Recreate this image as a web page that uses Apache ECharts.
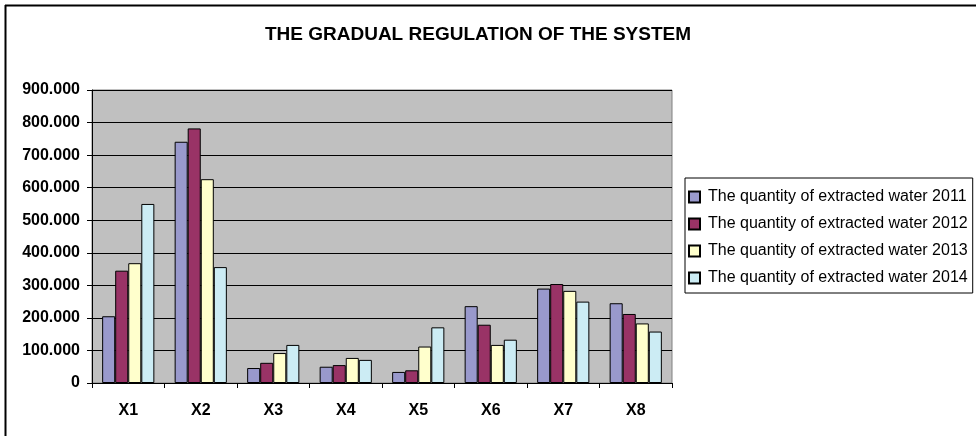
<!DOCTYPE html>
<html>
<head>
<meta charset="utf-8">
<script src="https://cdn.jsdelivr.net/npm/echarts@6/dist/echarts.min.js"></script>
<style>
  html, body { margin: 0; padding: 0; background: #fff; }
  #chart { width: 976px; height: 436px; }
</style>
</head>
<body>
<div id="chart"></div>
<script>
// Categories and yearly extracted water quantities
const categories = ['X1', 'X2', 'X3', 'X4', 'X5', 'X6', 'X7', 'X8'];
const seriesNames = [
  'The quantity of extracted water 2011',
  'The quantity of extracted water 2012',
  'The quantity of extracted water 2013',
  'The quantity of extracted water 2014'
];
const water2011 = [205000, 741000, 46000, 50000, 34000, 236000, 290000, 245000];
const water2012 = [345000, 782000, 62000, 55000, 39000, 179000, 304000, 212000];
const water2013 = [368000, 626000, 92000, 77000, 112000, 117000, 283000, 183000];
const water2014 = [550000, 356000, 117000, 71000, 171000, 133000, 250000, 158000];
const yTicks = [0, 100000, 200000, 300000, 400000, 500000, 600000, 700000, 800000, 900000];

const seriesValues = [water2011, water2012, water2013, water2014];
const colors = ['#9999CC', '#993366', '#FFFFCC', '#CCECF4'];

// thousands separated by dots, zero shown plain
function fmt(v) {
  if (v === 0) return '0';
  return String(Math.round(v)).replace(/\B(?=(\d{3})+(?!\d))/g, '.');
}

const chart = echarts.init(document.getElementById('chart'), null, { renderer: 'canvas' });
const font = 'Arial, "Liberation Sans", sans-serif';

chart.setOption({
  animation: false,
  backgroundColor: '#ffffff',
  color: colors,
  title: {
    text: 'THE GRADUAL REGULATION OF THE SYSTEM',
    left: 473,
    textAlign: 'center',
    top: 20,
    textStyle: { fontFamily: font, fontSize: 19, fontWeight: 'bold', color: '#000' }
  },
  graphic: [
    { type: 'line', shape: { x1: 5, y1: 5.5, x2: 976, y2: 5.5 }, style: { stroke: '#000', lineWidth: 2 } },
    { type: 'line', shape: { x1: 5.5, y1: 5, x2: 5.5, y2: 436 }, style: { stroke: '#000', lineWidth: 2 } }
  ],
  legend: {
    orient: 'vertical',
    left: 685,
    top: 178,
    padding: [11, 5, 7, 3],
    itemWidth: 11,
    itemHeight: 11,
    itemGap: 11,
    borderColor: '#000',
    borderWidth: 1,
    icon: 'rect',
    textStyle: { fontFamily: font, fontSize: 16, color: '#000', padding: [0, 0, 0, 3] },
    data: seriesNames
  },
  grid: {
    left: 92,
    right: 304,
    top: 90,
    bottom: 53,
    show: true,
    backgroundColor: '#C0C0C0',
    borderColor: '#808080',
    borderWidth: 1,
    containLabel: false
  },
  xAxis: {
    type: 'category',
    data: categories,
    axisLine: { lineStyle: { color: '#000', width: 1 } },
    axisTick: { show: true, length: 5, lineStyle: { color: '#000' } },
    axisLabel: { fontFamily: font, fontSize: 16, fontWeight: 'bold', color: '#000', margin: 20 },
    splitLine: { show: false }
  },
  yAxis: {
    type: 'value',
    min: 0,
    max: 900000,
    interval: 100000,
    axisLine: { show: true, lineStyle: { color: '#000', width: 1 } },
    axisTick: { show: true, length: 5, lineStyle: { color: '#000' } },
    axisLabel: {
      fontFamily: font, fontSize: 16, fontWeight: 'bold', color: '#000', margin: 12,
      formatter: function (v) { return yTicks.indexOf(v) >= 0 ? fmt(v) : ''; }
    },
    splitLine: { show: true, lineStyle: { color: '#000', width: 1 } }
  },
  series: seriesNames.map(function (name, i) {
    return {
      name: name,
      type: 'bar',
      data: seriesValues[i],
      barGap: '0%',
      barCategoryGap: '28%',
      itemStyle: { color: colors[i], borderColor: '#000', borderWidth: 1 }
    };
  })
});
</script>
</body>
</html>
